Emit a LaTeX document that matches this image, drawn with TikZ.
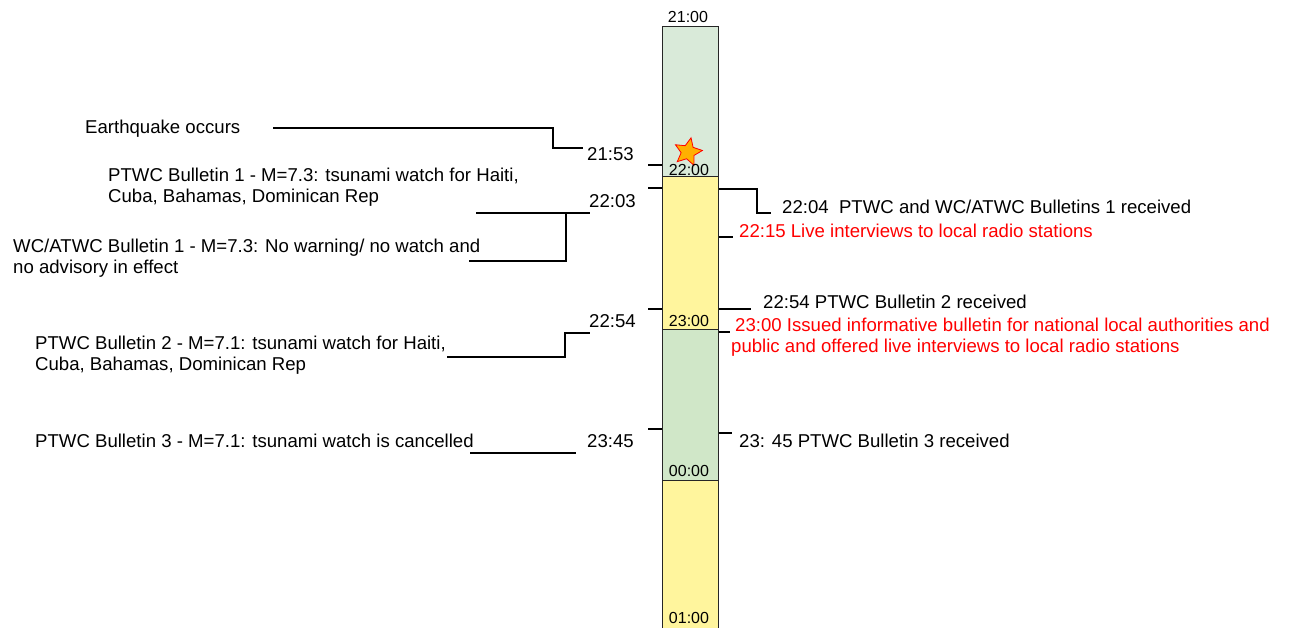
\documentclass[tikz,border=0pt]{standalone}
\usepackage{fontspec}
\setmainfont{Liberation Sans}
\usetikzlibrary{shapes.geometric}
\definecolor{gA}{RGB}{217,234,217}
\definecolor{yA}{RGB}{255,245,157}
\definecolor{gB}{RGB}{208,231,200}
\definecolor{starfill}{RGB}{255,176,0}
\begin{document}
\begin{tikzpicture}[x=1pt,y=-1pt,
  seg/.style={draw=black!85, line width=1pt, minimum width=56pt, inner sep=0pt},
  txt/.style={anchor=west, inner sep=0pt, font=\fontsize{18.6}{21}\selectfont, align=left},
  redtxt/.style={txt, text=red},
  hr/.style={inner sep=0pt, font=\fontsize{16}{18}\selectfont},
  conn/.style={line width=1.2pt}]
\useasboundingbox (0,0) rectangle (1290,628);

% time bar
\node[seg, fill=gA, minimum height=150pt] (s1) at (690,102) {};
\node[seg, fill=yA, minimum height=152pt] (s2) at (690,253) {};
\node[seg, fill=gB, minimum height=151pt] (s3) at (690,404.5) {};
\node[seg, fill=yA, minimum height=170pt] (s4) at (690,565) {};

\node[star, star points=5, star point ratio=2.1, minimum size=29pt, inner sep=0pt,
      fill=starfill, draw=red, line width=0.8pt, rotate=-12] (quake) at (688,152) {};

\node[hr] (h21) at (688,17) {21:00};
\node[hr] (h22) at (689,170) {22:00};
\node[hr] (h23) at (689,321) {23:00};
\node[hr] (h00) at (689,471) {00:00};
\node[hr] (h01) at (689,618) {01:00};

% left texts
\node[txt] (eq) at (85,129) {Earthquake occurs};
\node[txt] (b1) at (108,187) {PTWC Bulletin 1 - M=7.3: tsunami watch for Haiti,\\Cuba, Bahamas, Dominican Rep};
\node[txt] (wc) at (13,258) {WC/ATWC Bulletin 1 - M=7.3: No warning/ no watch and\\no advisory in effect};
\node[txt] (b2) at (35,355) {PTWC Bulletin 2 - M=7.1: tsunami watch for Haiti,\\Cuba, Bahamas, Dominican Rep};
\node[txt] (b3) at (35,441) {PTWC Bulletin 3 - M=7.1: tsunami watch is cancelled};

\node[txt] (t2153) at (587,154) {21:53};
\node[txt] (t2203) at (589,201) {22:03};
\node[txt] (t2254) at (589,321) {22:54};
\node[txt] (t2345) at (587,441) {23:45};

% right texts
\node[txt] (r1) at (782,207) {22:04\ \ PTWC and WC/ATWC Bulletins 1 received};
\node[redtxt] (r2) at (739,231) {22:15 Live interviews to local radio stations};
\node[txt] (r3) at (763,302) {22:54 PTWC Bulletin 2 received};
\node[redtxt] (r4) at (731,337) {\hspace*{4pt}23:00 Issued informative bulletin for national local authorities and\\public and offered live interviews to local radio stations};
\node[txt] (r5) at (739,441) {23: 45 PTWC Bulletin 3 received};

% connector coordinates
\coordinate (eqE) at (273,128);
\coordinate (eqT) at (583,148);
\coordinate (b1E) at (476,213);
\coordinate (b1T) at (590,213);
\coordinate (wcE) at (469,261);
\coordinate (b2E) at (447,357);
\coordinate (b2T) at (590,333);
\coordinate (b3E) at (470,453);
\coordinate (b3T) at (576,453);
\coordinate (r1E) at (771,213);

% left connectors
\draw[conn] (eqE) -- (553,128) -- (553,148) -- (eqT);
\draw[conn] (b1E) -- (b1T);
\draw[conn] (wcE) -- (566,261) -- (566,213);
\draw[conn] (b2E) -- (565,357) -- (565,333) -- (b2T);
\draw[conn] (b3E) -- (b3T);

% ticks on bar, left
\draw[conn] (648,165) -- (s1.west |- 0,165);
\draw[conn] (648,188) -- (s2.west |- 0,188);
\draw[conn] (648,309) -- (s2.west |- 0,309);
\draw[conn] (648,429) -- (s3.west |- 0,429);

% right connectors
\draw[conn] (s2.east |- 0,189) -- (757,189) -- (757,213) -- (r1E);
\draw[conn] (s2.east |- 0,237) -- (733,237);
\draw[conn] (s2.east |- 0,309) -- (751,309);
\draw[conn] (s3.east |- 0,332) -- (730,332);
\draw[conn] (s3.east |- 0,433) -- (732,433);
\end{tikzpicture}
\end{document}
